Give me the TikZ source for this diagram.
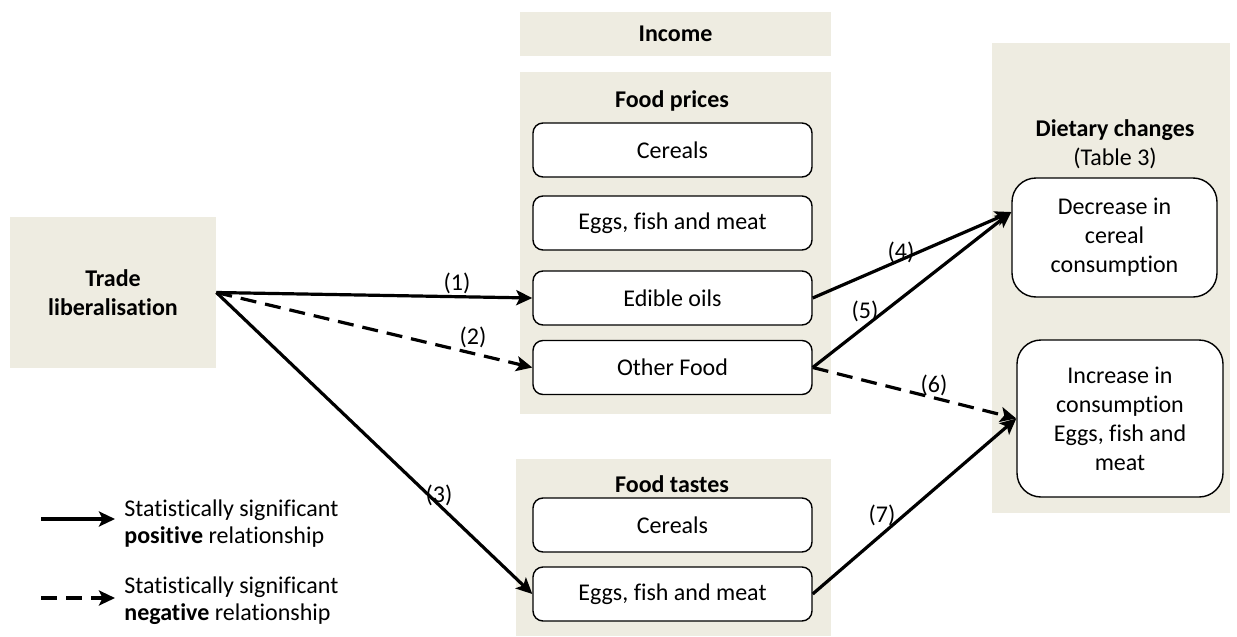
\documentclass[tikz,border=0pt]{standalone}
\usepackage{fontspec}
\setmainfont{Carlito}[Ligatures=NoCommon]
\usetikzlibrary{arrows.meta}
\definecolor{panelbg}{RGB}{238,236,225}
\tikzset{
  panel/.style={fill=panelbg, inner sep=0pt},
  paneltitle/.style={font=\bfseries},
  item/.style={draw, fill=white, line width=0.7pt, rounded corners=5pt,
    minimum width=139.5pt, minimum height=27pt, inner sep=0pt},
  outcome/.style={draw, fill=white, line width=0.7pt, rounded corners=12pt,
    align=center, inner sep=0pt},
  posarrow/.style={line width=1.6pt, -{Stealth[length=8pt,width=7.5pt,inset=1.8pt]}},
  negarrow/.style={posarrow, dash pattern=on 8pt off 4.5pt},
  legendtext/.style={align=left, anchor=west, inner sep=0pt,
    font=\fontsize{12}{13.5}\selectfont},
}
\begin{document}
\fontsize{12}{14.5}\selectfont
\begin{tikzpicture}[x=0.5pt, y=-0.5pt]
\useasboundingbox (0,0) rectangle (1237,637);
% panels
\node[panel, minimum width=155.5pt, minimum height=22pt] (income) at (675.5,34) {\bfseries Income};
\node[panel, minimum width=155.5pt, minimum height=171pt] (prices) at (675.5,243) {};
\node[paneltitle] (pricestitle) at (672,101) {Food prices};
\node[panel, minimum width=157.5pt, minimum height=88.5pt] (tastes) at (673.5,547.5) {};
\node[paneltitle] (tastestitle) at (672,484) {Food tastes};
\node[panel, minimum width=119pt, minimum height=235pt] (diet) at (1111,278) {};
\node[align=center] (diettitle) at (1115,144) {\textbf{Dietary changes}\\(Table 3)};
\node[panel, align=center, minimum width=103pt, minimum height=75.5pt] (trade) at (113,292.5)
  {\textbf{Trade}\\\textbf{liberalisation}};
% food prices
\node[item] (pcer) at (672.5,150) {Cereals};
\node[item] (pegg) at (672.5,223) {Eggs, fish and meat};
\node[item] (poil) at (672.5,298) {Edible oils};
\node[item] (poth) at (672.5,367.5) {Other Food};
% food tastes
\node[item] (tcer) at (672.5,525) {Cereals};
\node[item] (tegg) at (672.5,594) {Eggs, fish and meat};
% dietary changes
\node[outcome, minimum width=102.5pt, minimum height=59.5pt] (decr) at (1114.5,237.5)
  {Decrease in\\cereal\\consumption};
\node[outcome, minimum width=103pt, minimum height=78.5pt] (incr) at (1120,418.5)
  {Increase in\\consumption\\Eggs, fish and\\meat};
\coordinate (dectip) at ([yshift=12.75pt]decr.west);
% relationships
\draw[posarrow] (trade.east) -- (poil.west);
\draw[negarrow] (trade.east) -- (poth.west);
\draw[posarrow] (trade.east) -- (tegg.west);
\draw[posarrow] (poil.east) -- (dectip);
\draw[posarrow] (poth.east) -- (dectip);
\draw[negarrow] (poth.east) -- (incr.west);
\draw[posarrow] (tegg.east) -- (incr.west);
\node (l1) at (457,283) {(1)};
\node (l2) at (473,337) {(2)};
\node (l3) at (439,495) {(3)};
\node (l4) at (901,252) {(4)};
\node (l5) at (865,311) {(5)};
\node (l6) at (934,385) {(6)};
\node (l7) at (882,515) {(7)};
% legend
\coordinate (posfrom) at (41,519);
\coordinate (posto) at (115,519);
\draw[posarrow] (posfrom) -- (posto);
\node[legendtext] (postext) at (124,523.5) {Statistically significant\\\textbf{positive} relationship};
\coordinate (negfrom) at (41,598);
\coordinate (negto) at (115,598);
\draw[negarrow] (negfrom) -- (negto);
\node[legendtext] (negtext) at (124,601) {Statistically significant\\\textbf{negative} relationship};
\end{tikzpicture}
\end{document}
